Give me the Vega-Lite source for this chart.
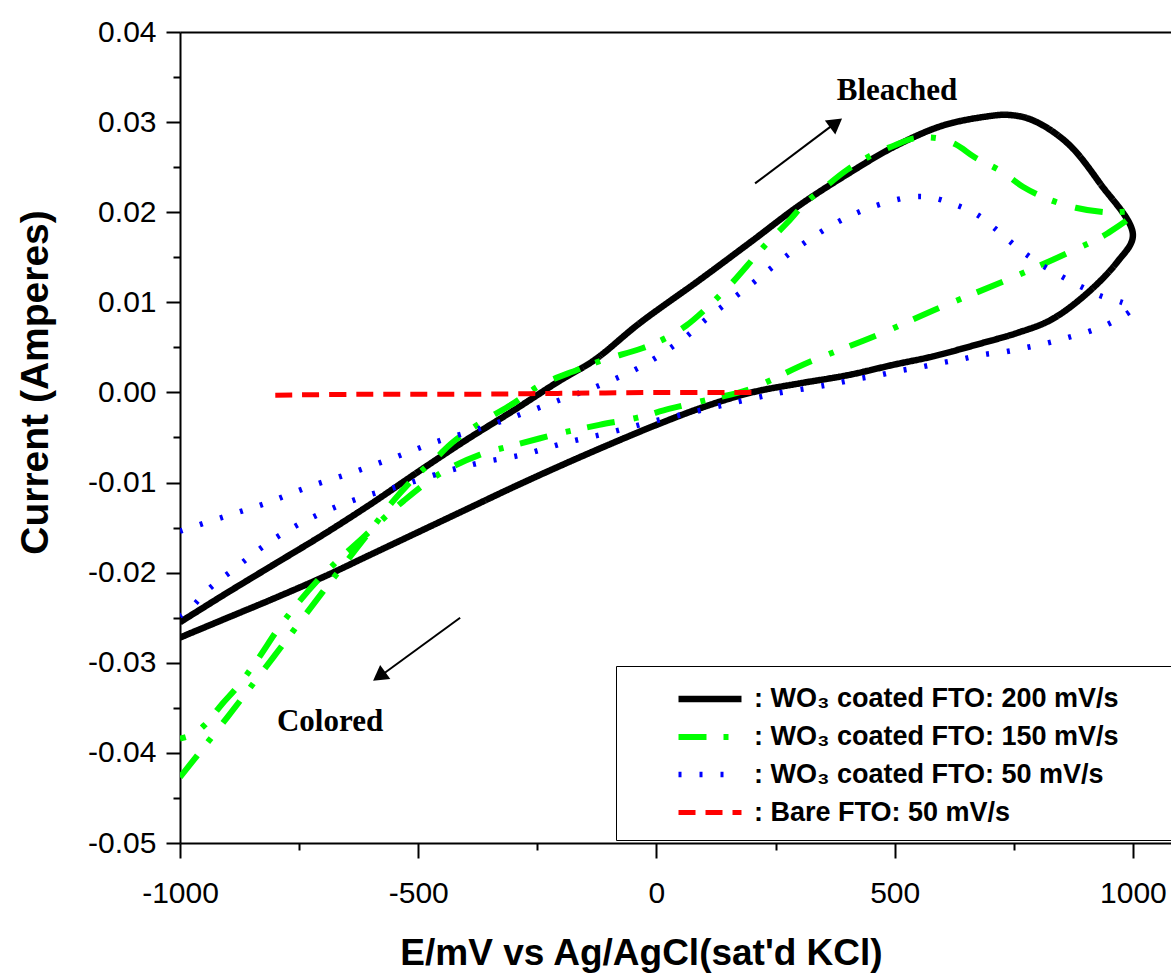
{
  "$schema": "https://vega.github.io/schema/vega-lite/v6.json",
  "width": 991,
  "height": 811,
  "autosize": "none",
  "padding": {"left": 180, "top": 32, "right": 0, "bottom": 135},
  "background": "white",
  "config": {
    "view": {"stroke": null},
    "font": "Liberation Sans",
    "axis": {"domainColor": "black", "tickColor": "black", "labelColor": "black", "titleColor": "black", "domainWidth": 2, "tickWidth": 2, "grid": false, "labelFont": "Liberation Sans", "titleFont": "Liberation Sans"}
  },
  "datasets": {
    "curves": [
      {"s": "WO₃ coated FTO: 200 mV/s", "i": 0, "E": -1000, "I": -0.0255},
      {"s": "WO₃ coated FTO: 200 mV/s", "i": 1, "E": -900, "I": -0.0222},
      {"s": "WO₃ coated FTO: 200 mV/s", "i": 2, "E": -800, "I": -0.0190},
      {"s": "WO₃ coated FTO: 200 mV/s", "i": 3, "E": -700, "I": -0.0158},
      {"s": "WO₃ coated FTO: 200 mV/s", "i": 4, "E": -600, "I": -0.0124},
      {"s": "WO₃ coated FTO: 200 mV/s", "i": 5, "E": -500, "I": -0.0088},
      {"s": "WO₃ coated FTO: 200 mV/s", "i": 6, "E": -400, "I": -0.0053},
      {"s": "WO₃ coated FTO: 200 mV/s", "i": 7, "E": -300, "I": -0.0020},
      {"s": "WO₃ coated FTO: 200 mV/s", "i": 8, "E": -200, "I": 0.0014},
      {"s": "WO₃ coated FTO: 200 mV/s", "i": 9, "E": -130, "I": 0.0036},
      {"s": "WO₃ coated FTO: 200 mV/s", "i": 10, "E": -35, "I": 0.0077},
      {"s": "WO₃ coated FTO: 200 mV/s", "i": 11, "E": 91, "I": 0.0125},
      {"s": "WO₃ coated FTO: 200 mV/s", "i": 12, "E": 203, "I": 0.0169},
      {"s": "WO₃ coated FTO: 200 mV/s", "i": 13, "E": 301, "I": 0.0208},
      {"s": "WO₃ coated FTO: 200 mV/s", "i": 14, "E": 400, "I": 0.0242},
      {"s": "WO₃ coated FTO: 200 mV/s", "i": 15, "E": 500, "I": 0.0273},
      {"s": "WO₃ coated FTO: 200 mV/s", "i": 16, "E": 600, "I": 0.0296},
      {"s": "WO₃ coated FTO: 200 mV/s", "i": 17, "E": 690, "I": 0.0306},
      {"s": "WO₃ coated FTO: 200 mV/s", "i": 18, "E": 740, "I": 0.0308},
      {"s": "WO₃ coated FTO: 200 mV/s", "i": 19, "E": 790, "I": 0.0302},
      {"s": "WO₃ coated FTO: 200 mV/s", "i": 20, "E": 862, "I": 0.0277},
      {"s": "WO₃ coated FTO: 200 mV/s", "i": 21, "E": 931, "I": 0.0232},
      {"s": "WO₃ coated FTO: 200 mV/s", "i": 22, "E": 1000, "I": 0.0175},
      {"s": "WO₃ coated FTO: 200 mV/s", "i": 23, "E": 966, "I": 0.0144},
      {"s": "WO₃ coated FTO: 200 mV/s", "i": 24, "E": 895, "I": 0.0106},
      {"s": "WO₃ coated FTO: 200 mV/s", "i": 25, "E": 826, "I": 0.0080},
      {"s": "WO₃ coated FTO: 200 mV/s", "i": 26, "E": 757, "I": 0.0066},
      {"s": "WO₃ coated FTO: 200 mV/s", "i": 27, "E": 685, "I": 0.0055},
      {"s": "WO₃ coated FTO: 200 mV/s", "i": 28, "E": 580, "I": 0.0040},
      {"s": "WO₃ coated FTO: 200 mV/s", "i": 29, "E": 500, "I": 0.0031},
      {"s": "WO₃ coated FTO: 200 mV/s", "i": 30, "E": 400, "I": 0.0019},
      {"s": "WO₃ coated FTO: 200 mV/s", "i": 31, "E": 300, "I": 0.0010},
      {"s": "WO₃ coated FTO: 200 mV/s", "i": 32, "E": 200, "I": 0.0000},
      {"s": "WO₃ coated FTO: 200 mV/s", "i": 33, "E": 100, "I": -0.0016},
      {"s": "WO₃ coated FTO: 200 mV/s", "i": 34, "E": 0, "I": -0.0036},
      {"s": "WO₃ coated FTO: 200 mV/s", "i": 35, "E": -100, "I": -0.0058},
      {"s": "WO₃ coated FTO: 200 mV/s", "i": 36, "E": -200, "I": -0.0081},
      {"s": "WO₃ coated FTO: 200 mV/s", "i": 37, "E": -300, "I": -0.0105},
      {"s": "WO₃ coated FTO: 200 mV/s", "i": 38, "E": -400, "I": -0.0130},
      {"s": "WO₃ coated FTO: 200 mV/s", "i": 39, "E": -500, "I": -0.0155},
      {"s": "WO₃ coated FTO: 200 mV/s", "i": 40, "E": -600, "I": -0.0180},
      {"s": "WO₃ coated FTO: 200 mV/s", "i": 41, "E": -700, "I": -0.0205},
      {"s": "WO₃ coated FTO: 200 mV/s", "i": 42, "E": -800, "I": -0.0228},
      {"s": "WO₃ coated FTO: 200 mV/s", "i": 43, "E": -900, "I": -0.0250},
      {"s": "WO₃ coated FTO: 200 mV/s", "i": 44, "E": -1000, "I": -0.0272},

      {"s": "WO₃ coated FTO: 150 mV/s", "i": 0, "E": -1000, "I": -0.0427},
      {"s": "WO₃ coated FTO: 150 mV/s", "i": 1, "E": -900, "I": -0.0360},
      {"s": "WO₃ coated FTO: 150 mV/s", "i": 2, "E": -800, "I": -0.0291},
      {"s": "WO₃ coated FTO: 150 mV/s", "i": 3, "E": -700, "I": -0.0221},
      {"s": "WO₃ coated FTO: 150 mV/s", "i": 4, "E": -660, "I": -0.0194},
      {"s": "WO₃ coated FTO: 150 mV/s", "i": 5, "E": -600, "I": -0.0153},
      {"s": "WO₃ coated FTO: 150 mV/s", "i": 6, "E": -555, "I": -0.0122},
      {"s": "WO₃ coated FTO: 150 mV/s", "i": 7, "E": -503, "I": -0.0092},
      {"s": "WO₃ coated FTO: 150 mV/s", "i": 8, "E": -465, "I": -0.0074},
      {"s": "WO₃ coated FTO: 150 mV/s", "i": 9, "E": -427, "I": -0.0055},
      {"s": "WO₃ coated FTO: 150 mV/s", "i": 10, "E": -370, "I": -0.0034},
      {"s": "WO₃ coated FTO: 150 mV/s", "i": 11, "E": -297, "I": -0.0011},
      {"s": "WO₃ coated FTO: 150 mV/s", "i": 12, "E": -244, "I": 0.0008},
      {"s": "WO₃ coated FTO: 150 mV/s", "i": 13, "E": -167, "I": 0.0025},
      {"s": "WO₃ coated FTO: 150 mV/s", "i": 14, "E": -112, "I": 0.0036},
      {"s": "WO₃ coated FTO: 150 mV/s", "i": 15, "E": -30, "I": 0.0049},
      {"s": "WO₃ coated FTO: 150 mV/s", "i": 16, "E": 22, "I": 0.0061},
      {"s": "WO₃ coated FTO: 150 mV/s", "i": 17, "E": 62, "I": 0.0074},
      {"s": "WO₃ coated FTO: 150 mV/s", "i": 18, "E": 102, "I": 0.0092},
      {"s": "WO₃ coated FTO: 150 mV/s", "i": 19, "E": 154, "I": 0.0119},
      {"s": "WO₃ coated FTO: 150 mV/s", "i": 20, "E": 224, "I": 0.0161},
      {"s": "WO₃ coated FTO: 150 mV/s", "i": 21, "E": 274, "I": 0.0188},
      {"s": "WO₃ coated FTO: 150 mV/s", "i": 22, "E": 312, "I": 0.0210},
      {"s": "WO₃ coated FTO: 150 mV/s", "i": 23, "E": 354, "I": 0.0228},
      {"s": "WO₃ coated FTO: 150 mV/s", "i": 24, "E": 400, "I": 0.0247},
      {"s": "WO₃ coated FTO: 150 mV/s", "i": 25, "E": 454, "I": 0.0264},
      {"s": "WO₃ coated FTO: 150 mV/s", "i": 26, "E": 494, "I": 0.0273},
      {"s": "WO₃ coated FTO: 150 mV/s", "i": 27, "E": 540, "I": 0.0282},
      {"s": "WO₃ coated FTO: 150 mV/s", "i": 28, "E": 591, "I": 0.0282},
      {"s": "WO₃ coated FTO: 150 mV/s", "i": 29, "E": 629, "I": 0.0275},
      {"s": "WO₃ coated FTO: 150 mV/s", "i": 30, "E": 668, "I": 0.0261},
      {"s": "WO₃ coated FTO: 150 mV/s", "i": 31, "E": 725, "I": 0.0245},
      {"s": "WO₃ coated FTO: 150 mV/s", "i": 32, "E": 770, "I": 0.0228},
      {"s": "WO₃ coated FTO: 150 mV/s", "i": 33, "E": 820, "I": 0.0215},
      {"s": "WO₃ coated FTO: 150 mV/s", "i": 34, "E": 880, "I": 0.0205},
      {"s": "WO₃ coated FTO: 150 mV/s", "i": 35, "E": 940, "I": 0.0200},
      {"s": "WO₃ coated FTO: 150 mV/s", "i": 36, "E": 1000, "I": 0.0199},
      {"s": "WO₃ coated FTO: 150 mV/s", "i": 37, "E": 948, "I": 0.0177},
      {"s": "WO₃ coated FTO: 150 mV/s", "i": 38, "E": 868, "I": 0.0156},
      {"s": "WO₃ coated FTO: 150 mV/s", "i": 39, "E": 736, "I": 0.0125},
      {"s": "WO₃ coated FTO: 150 mV/s", "i": 40, "E": 599, "I": 0.0095},
      {"s": "WO₃ coated FTO: 150 mV/s", "i": 41, "E": 465, "I": 0.0064},
      {"s": "WO₃ coated FTO: 150 mV/s", "i": 42, "E": 322, "I": 0.0034},
      {"s": "WO₃ coated FTO: 150 mV/s", "i": 43, "E": 192, "I": 0.0003},
      {"s": "WO₃ coated FTO: 150 mV/s", "i": 44, "E": 116, "I": -0.0007},
      {"s": "WO₃ coated FTO: 150 mV/s", "i": 45, "E": 28, "I": -0.0018},
      {"s": "WO₃ coated FTO: 150 mV/s", "i": 46, "E": -40, "I": -0.0028},
      {"s": "WO₃ coated FTO: 150 mV/s", "i": 47, "E": -120, "I": -0.0036},
      {"s": "WO₃ coated FTO: 150 mV/s", "i": 48, "E": -200, "I": -0.0045},
      {"s": "WO₃ coated FTO: 150 mV/s", "i": 49, "E": -295, "I": -0.0058},
      {"s": "WO₃ coated FTO: 150 mV/s", "i": 50, "E": -370, "I": -0.0069},
      {"s": "WO₃ coated FTO: 150 mV/s", "i": 51, "E": -454, "I": -0.0090},
      {"s": "WO₃ coated FTO: 150 mV/s", "i": 52, "E": -530, "I": -0.0120},
      {"s": "WO₃ coated FTO: 150 mV/s", "i": 53, "E": -620, "I": -0.0163},
      {"s": "WO₃ coated FTO: 150 mV/s", "i": 54, "E": -710, "I": -0.0208},
      {"s": "WO₃ coated FTO: 150 mV/s", "i": 55, "E": -784, "I": -0.0255},
      {"s": "WO₃ coated FTO: 150 mV/s", "i": 56, "E": -838, "I": -0.0297},
      {"s": "WO₃ coated FTO: 150 mV/s", "i": 57, "E": -880, "I": -0.0327},
      {"s": "WO₃ coated FTO: 150 mV/s", "i": 58, "E": -912, "I": -0.0346},
      {"s": "WO₃ coated FTO: 150 mV/s", "i": 59, "E": -948, "I": -0.0369},
      {"s": "WO₃ coated FTO: 150 mV/s", "i": 60, "E": -975, "I": -0.0380},
      {"s": "WO₃ coated FTO: 150 mV/s", "i": 61, "E": -1000, "I": -0.0384},

      {"s": "WO₃ coated FTO: 50 mV/s", "i": 0, "E": -1000, "I": -0.0154},
      {"s": "WO₃ coated FTO: 50 mV/s", "i": 1, "E": -908, "I": -0.0138},
      {"s": "WO₃ coated FTO: 50 mV/s", "i": 2, "E": -820, "I": -0.0123},
      {"s": "WO₃ coated FTO: 50 mV/s", "i": 3, "E": -731, "I": -0.0105},
      {"s": "WO₃ coated FTO: 50 mV/s", "i": 4, "E": -639, "I": -0.0089},
      {"s": "WO₃ coated FTO: 50 mV/s", "i": 5, "E": -549, "I": -0.0072},
      {"s": "WO₃ coated FTO: 50 mV/s", "i": 6, "E": -463, "I": -0.0055},
      {"s": "WO₃ coated FTO: 50 mV/s", "i": 7, "E": -370, "I": -0.0040},
      {"s": "WO₃ coated FTO: 50 mV/s", "i": 8, "E": -299, "I": -0.0027},
      {"s": "WO₃ coated FTO: 50 mV/s", "i": 9, "E": -211, "I": -0.0010},
      {"s": "WO₃ coated FTO: 50 mV/s", "i": 10, "E": -119, "I": 0.0008},
      {"s": "WO₃ coated FTO: 50 mV/s", "i": 11, "E": -28, "I": 0.0030},
      {"s": "WO₃ coated FTO: 50 mV/s", "i": 12, "E": 60, "I": 0.0061},
      {"s": "WO₃ coated FTO: 50 mV/s", "i": 13, "E": 106, "I": 0.0082},
      {"s": "WO₃ coated FTO: 50 mV/s", "i": 14, "E": 194, "I": 0.0118},
      {"s": "WO₃ coated FTO: 50 mV/s", "i": 15, "E": 282, "I": 0.0155},
      {"s": "WO₃ coated FTO: 50 mV/s", "i": 16, "E": 370, "I": 0.0186},
      {"s": "WO₃ coated FTO: 50 mV/s", "i": 17, "E": 448, "I": 0.0205},
      {"s": "WO₃ coated FTO: 50 mV/s", "i": 18, "E": 536, "I": 0.0217},
      {"s": "WO₃ coated FTO: 50 mV/s", "i": 19, "E": 580, "I": 0.0216},
      {"s": "WO₃ coated FTO: 50 mV/s", "i": 20, "E": 624, "I": 0.0209},
      {"s": "WO₃ coated FTO: 50 mV/s", "i": 21, "E": 671, "I": 0.0198},
      {"s": "WO₃ coated FTO: 50 mV/s", "i": 22, "E": 715, "I": 0.0180},
      {"s": "WO₃ coated FTO: 50 mV/s", "i": 23, "E": 757, "I": 0.0161},
      {"s": "WO₃ coated FTO: 50 mV/s", "i": 24, "E": 801, "I": 0.0144},
      {"s": "WO₃ coated FTO: 50 mV/s", "i": 25, "E": 843, "I": 0.0131},
      {"s": "WO₃ coated FTO: 50 mV/s", "i": 26, "E": 889, "I": 0.0118},
      {"s": "WO₃ coated FTO: 50 mV/s", "i": 27, "E": 933, "I": 0.0107},
      {"s": "WO₃ coated FTO: 50 mV/s", "i": 28, "E": 977, "I": 0.0100},
      {"s": "WO₃ coated FTO: 50 mV/s", "i": 29, "E": 1000, "I": 0.0094},
      {"s": "WO₃ coated FTO: 50 mV/s", "i": 30, "E": 956, "I": 0.0078},
      {"s": "WO₃ coated FTO: 50 mV/s", "i": 31, "E": 910, "I": 0.0068},
      {"s": "WO₃ coated FTO: 50 mV/s", "i": 32, "E": 864, "I": 0.0061},
      {"s": "WO₃ coated FTO: 50 mV/s", "i": 33, "E": 822, "I": 0.0055},
      {"s": "WO₃ coated FTO: 50 mV/s", "i": 34, "E": 778, "I": 0.0050},
      {"s": "WO₃ coated FTO: 50 mV/s", "i": 35, "E": 731, "I": 0.0045},
      {"s": "WO₃ coated FTO: 50 mV/s", "i": 36, "E": 685, "I": 0.0042},
      {"s": "WO₃ coated FTO: 50 mV/s", "i": 37, "E": 641, "I": 0.0037},
      {"s": "WO₃ coated FTO: 50 mV/s", "i": 38, "E": 599, "I": 0.0033},
      {"s": "WO₃ coated FTO: 50 mV/s", "i": 39, "E": 553, "I": 0.0028},
      {"s": "WO₃ coated FTO: 50 mV/s", "i": 40, "E": 509, "I": 0.0024},
      {"s": "WO₃ coated FTO: 50 mV/s", "i": 41, "E": 465, "I": 0.0019},
      {"s": "WO₃ coated FTO: 50 mV/s", "i": 42, "E": 421, "I": 0.0015},
      {"s": "WO₃ coated FTO: 50 mV/s", "i": 43, "E": 375, "I": 0.0010},
      {"s": "WO₃ coated FTO: 50 mV/s", "i": 44, "E": 333, "I": 0.0006},
      {"s": "WO₃ coated FTO: 50 mV/s", "i": 45, "E": 253, "I": -0.0001},
      {"s": "WO₃ coated FTO: 50 mV/s", "i": 46, "E": 165, "I": -0.0011},
      {"s": "WO₃ coated FTO: 50 mV/s", "i": 47, "E": 75, "I": -0.0022},
      {"s": "WO₃ coated FTO: 50 mV/s", "i": 48, "E": -14, "I": -0.0033},
      {"s": "WO₃ coated FTO: 50 mV/s", "i": 49, "E": -102, "I": -0.0045},
      {"s": "WO₃ coated FTO: 50 mV/s", "i": 50, "E": -192, "I": -0.0056},
      {"s": "WO₃ coated FTO: 50 mV/s", "i": 51, "E": -280, "I": -0.0069},
      {"s": "WO₃ coated FTO: 50 mV/s", "i": 52, "E": -370, "I": -0.0078},
      {"s": "WO₃ coated FTO: 50 mV/s", "i": 53, "E": -444, "I": -0.0088},
      {"s": "WO₃ coated FTO: 50 mV/s", "i": 54, "E": -534, "I": -0.0103},
      {"s": "WO₃ coated FTO: 50 mV/s", "i": 55, "E": -622, "I": -0.0117},
      {"s": "WO₃ coated FTO: 50 mV/s", "i": 56, "E": -712, "I": -0.0136},
      {"s": "WO₃ coated FTO: 50 mV/s", "i": 57, "E": -801, "I": -0.0162},
      {"s": "WO₃ coated FTO: 50 mV/s", "i": 58, "E": -889, "I": -0.0197},
      {"s": "WO₃ coated FTO: 50 mV/s", "i": 59, "E": -937, "I": -0.0217},
      {"s": "WO₃ coated FTO: 50 mV/s", "i": 60, "E": -979, "I": -0.0240},
      {"s": "WO₃ coated FTO: 50 mV/s", "i": 61, "E": -1000, "I": -0.0248},

      {"s": "Bare FTO: 50 mV/s", "i": 0, "E": -800, "I": -0.0003},
      {"s": "Bare FTO: 50 mV/s", "i": 1, "E": -600, "I": -0.0002},
      {"s": "Bare FTO: 50 mV/s", "i": 2, "E": -400, "I": -0.0002},
      {"s": "Bare FTO: 50 mV/s", "i": 3, "E": -200, "I": -0.0001},
      {"s": "Bare FTO: 50 mV/s", "i": 4, "E": 0, "I": 0.0},
      {"s": "Bare FTO: 50 mV/s", "i": 5, "E": 200, "I": 0.0}
    ],
    "arrows": [
      {"a": "Bleached", "E": 207, "I": 0.0232},
      {"a": "Bleached", "E": 378, "I": 0.0300},
      {"a": "Colored", "E": -412, "I": -0.0250},
      {"a": "Colored", "E": -583, "I": -0.0316}
    ],
    "heads": [
      {"a": "Bleached", "E": 377, "I": 0.0299},
      {"a": "Colored", "E": -582, "I": -0.0315}
    ],
    "labels": [
      {"t": "Bleached", "E": 505, "I": 0.0335},
      {"t": "Colored", "E": -685, "I": -0.0366}
    ]
  },
  "resolve": {"axis": {"x": "independent", "y": "independent"}},
  "layer": [
    {
      "data": {"name": "curves"},
      "mark": {"type": "line", "interpolate": "catmull-rom", "strokeCap": "butt", "strokeJoin": "round", "clip": true},
      "encoding": {
        "x": {"field": "E", "type": "quantitative",
          "scale": {"domain": [-1000, 1080], "nice": false, "zero": false},
          "axis": {"orient": "bottom", "values": [-1000, -500, 0, 500, 1000], "tickSize": 15, "labelFontSize": 30, "labelPadding": 20, "labelFlush": false,
            "labelExpr": "(datum.value < 0 ? '-' : '') + format(abs(datum.value), 'd')",
            "title": "E/mV vs Ag/AgCl(sat'd KCl)", "titleFontSize": 37, "titleFontWeight": "bold", "titlePadding": 27, "titleX": 461}},
        "y": {"field": "I", "type": "quantitative",
          "scale": {"domain": [-0.05, 0.04], "nice": false, "zero": false},
          "axis": {"orient": "left", "values": [-0.05, -0.04, -0.03, -0.02, -0.01, 0, 0.01, 0.02, 0.03, 0.04], "tickSize": 14, "labelFontSize": 30, "labelPadding": 10, "labelFlush": false,
            "labelExpr": "(datum.value < 0 ? '-' : '') + format(abs(datum.value), '.2f')",
            "title": "Current (Amperes)", "titleFontSize": 39, "titleFontWeight": "bold", "titlePadding": 32, "titleY": 350}},
        "order": {"field": "i", "type": "quantitative"},
        "color": {"field": "s", "type": "nominal",
          "scale": {"domain": ["WO₃ coated FTO: 200 mV/s", "WO₃ coated FTO: 150 mV/s", "WO₃ coated FTO: 50 mV/s", "Bare FTO: 50 mV/s"], "range": ["#000000", "#00ff00", "#0000ff", "#ff0000"]},
          "legend": {"title": null, "orient": "none", "legendX": 436, "legendY": 634, "strokeColor": "black", "fillColor": "white", "padding": 14,
            "symbolType": "M-2,0H2", "symbolSize": 992, "symbolOffset": 61, "labelOffset": 25, "rowPadding": 6, "labelLimit": 1000,
            "labelFont": "Liberation Sans", "labelFontSize": 27, "labelFontWeight": "bold", "labelColor": "black",
            "labelExpr": "': ' + datum.label + '\u00a0\u00a0\u00a0\u00a0\u00a0\u00a0\u200b'"}},
        "strokeDash": {"field": "s", "type": "nominal",
          "scale": {"domain": ["WO₃ coated FTO: 200 mV/s", "WO₃ coated FTO: 150 mV/s", "WO₃ coated FTO: 50 mV/s", "Bare FTO: 50 mV/s"], "range": [[1, 0], [28, 17, 5, 19], [3, 18], [17, 10]]}},
        "strokeWidth": {"field": "s", "type": "nominal",
          "scale": {"domain": ["WO₃ coated FTO: 200 mV/s", "WO₃ coated FTO: 150 mV/s", "WO₃ coated FTO: 50 mV/s", "Bare FTO: 50 mV/s"], "range": [6.5, 5, 2.5, 3]}}
      }
    },
    {
      "data": {"name": "arrows"},
      "mark": {"type": "line", "color": "black", "strokeWidth": 2},
      "encoding": {
        "x": {"field": "E", "type": "quantitative",
          "axis": {"orient": "bottom", "values": [-750, -250, 250, 750], "tickSize": 7, "labels": false, "domain": false, "title": null}},
        "y": {"field": "I", "type": "quantitative",
          "axis": {"orient": "left", "values": [-0.045, -0.035, -0.025, -0.015, -0.005, 0.005, 0.015, 0.025, 0.035], "tickSize": 7, "labels": false, "domain": false, "title": null}},
        "detail": {"field": "a", "type": "nominal"}
      }
    },
    {
      "data": {"name": "heads"},
      "transform": [{"filter": "datum.a == 'Bleached'"}],
      "mark": {"type": "point", "shape": "triangle-up", "filled": true, "color": "black", "opacity": 1, "size": 300, "angle": 53},
      "encoding": {
        "x": {"field": "E", "type": "quantitative", "axis": null},
        "y": {"field": "I", "type": "quantitative", "axis": null}
      }
    },
    {
      "data": {"name": "heads"},
      "transform": [{"filter": "datum.a == 'Colored'"}],
      "mark": {"type": "point", "shape": "triangle-up", "filled": true, "color": "black", "opacity": 1, "size": 300, "angle": 234},
      "encoding": {
        "x": {"field": "E", "type": "quantitative", "axis": null},
        "y": {"field": "I", "type": "quantitative", "axis": null}
      }
    },
    {
      "data": {"name": "labels"},
      "mark": {"type": "text", "font": "Liberation Serif", "fontWeight": "bold", "fontSize": 31, "color": "black", "align": "center", "baseline": "middle"},
      "encoding": {
        "x": {"field": "E", "type": "quantitative",
          "axis": {"orient": "top", "ticks": false, "labels": false, "domain": true, "title": null}},
        "y": {"field": "I", "type": "quantitative", "axis": null},
        "text": {"field": "t"}
      }
    }
  ]
}
